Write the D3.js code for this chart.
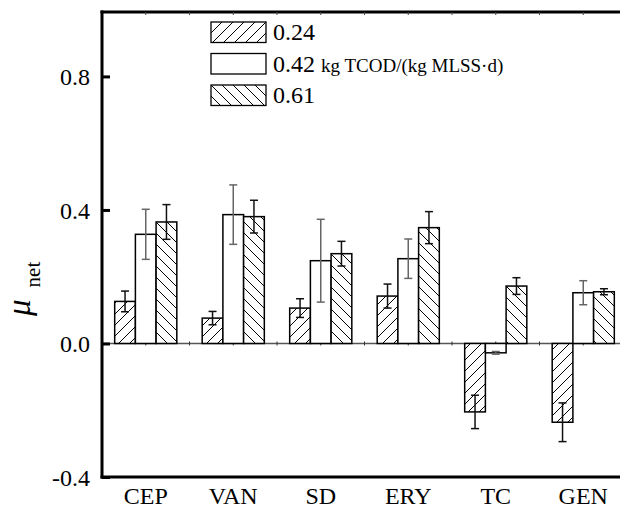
<!DOCTYPE html>
<html>
<head>
<meta charset="utf-8">
<script src="https://cdn.jsdelivr.net/npm/d3@7"></script>
<style>
  body { margin: 0; background: #fff; }
  svg text { font-family: "Liberation Serif", "Times New Roman", serif; fill: #000; }
</style>
</head>
<body>
<div id="chart"></div>
<script>
var w = 620, h = 509;

// data
var categories = ['CEP', 'VAN', 'SD', 'ERY', 'TC', 'GEN'];
var seriesNames = ['0.24', '0.42', '0.61'];
var vals024 = [0.126, 0.076, 0.106, 0.142, -0.205, -0.236];
var vals042 = [0.327, 0.386, 0.248, 0.254, -0.028, 0.152];
var vals061 = [0.364, 0.380, 0.269, 0.347, 0.172, 0.155];
var err024 = [0.031, 0.020, 0.028, 0.036, 0.050, 0.058];
var err042 = [0.075, 0.089, 0.124, 0.059, 0.004, 0.036];
var err061 = [0.052, 0.049, 0.037, 0.048, 0.025, 0.009];
var yTicks = [-0.4, 0.0, 0.4, 0.8];

var allVals = [vals024, vals042, vals061];
var allErrs = [err024, err042, err061];
var fills = ['url(#hatchF)', '#fff', 'url(#hatchB)'];
var errColors = ['#111', '#666', '#111'];

var svg = d3.select('#chart').append('svg')
  .attr('width', w)
  .attr('height', h);

// hatch patterns
var defs = svg.append('defs');
var pf = defs.append('pattern')
  .attr('id', 'hatchF')
  .attr('patternUnits', 'userSpaceOnUse')
  .attr('width', 11).attr('height', 11);
pf.append('rect').attr('width', 11).attr('height', 11).attr('fill', '#fff');
pf.append('path').attr('d', 'M0,11 L11,0 M-3,3 L3,-3 M8,14 L14,8')
  .attr('stroke', '#000').attr('stroke-width', 1);

var pb = defs.append('pattern')
  .attr('id', 'hatchB')
  .attr('patternUnits', 'userSpaceOnUse')
  .attr('width', 11).attr('height', 11);
pb.append('rect').attr('width', 11).attr('height', 11).attr('fill', '#fff');
pb.append('path').attr('d', 'M0,0 L11,11 M-3,8 L3,14 M8,-3 L14,3')
  .attr('stroke', '#000').attr('stroke-width', 1);

var pLeft = 102, pRight = 627, pTop = 12, pBottom = 477;

var x = d3.scaleBand()
  .domain(categories)
  .range([pLeft, pRight])
  .paddingInner(0.29)
  .paddingOuter(0.145);

var x1 = d3.scaleBand()
  .domain(seriesNames)
  .range([0, x.bandwidth()]);

var y = d3.scaleLinear()
  .domain([-0.4, 0.993])
  .range([pBottom, pTop]);

// zero line with small ticks at category centres and boundaries
var zeroTicks = [];
categories.forEach(function(c) {
  zeroTicks.push(x(c) + x.bandwidth() / 2);
  zeroTicks.push(x(c) + x.bandwidth() / 2 + x.step() / 2);
});
svg.append('line')
  .attr('x1', pLeft).attr('x2', w)
  .attr('y1', y(0)).attr('y2', y(0))
  .attr('stroke', '#555').attr('stroke-width', 1.5);
svg.selectAll('.ztick')
  .data(zeroTicks)
  .enter().append('line')
  .attr('class', 'ztick')
  .attr('x1', function(d) { return d; })
  .attr('x2', function(d) { return d; })
  .attr('y1', y(0) - 2).attr('y2', y(0) + 2)
  .attr('stroke', '#333').attr('stroke-width', 1);

// bars
seriesNames.forEach(function(s, k) {
  var g = svg.append('g');
  g.selectAll('rect')
    .data(allVals[k])
    .enter().append('rect')
    .attr('x', function(d, i) { return x(categories[i]) + x1(s); })
    .attr('y', function(d) { return y(Math.max(0, d)); })
    .attr('width', x1.bandwidth())
    .attr('height', function(d) { return Math.abs(y(d) - y(0)); })
    .attr('fill', fills[k])
    .attr('stroke', '#000')
    .attr('stroke-width', 1.5);
});

// error bars
seriesNames.forEach(function(s, k) {
  var g = svg.append('g')
    .attr('stroke', errColors[k])
    .attr('stroke-width', 1.5);
  allVals[k].forEach(function(d, i) {
    var cx = x(categories[i]) + x1(s) + x1.bandwidth() / 2;
    var e = allErrs[k][i];
    g.append('line')
      .attr('x1', cx).attr('x2', cx)
      .attr('y1', y(d + e)).attr('y2', y(d - e));
    g.append('line')
      .attr('x1', cx - 4).attr('x2', cx + 4)
      .attr('y1', y(d + e)).attr('y2', y(d + e));
    g.append('line')
      .attr('x1', cx - 4).attr('x2', cx + 4)
      .attr('y1', y(d - e)).attr('y2', y(d - e));
  });
});

// top frame line with small ticks
svg.append('line')
  .attr('x1', pLeft - 1.5).attr('x2', w)
  .attr('y1', pTop).attr('y2', pTop)
  .attr('stroke', '#000').attr('stroke-width', 3);
svg.selectAll('.ttick')
  .data(zeroTicks)
  .enter().append('line')
  .attr('class', 'ttick')
  .attr('x1', function(d) { return d; })
  .attr('x2', function(d) { return d; })
  .attr('y1', pTop).attr('y2', pTop + 3)
  .attr('stroke', '#444').attr('stroke-width', 1);

// y axis
var yAxis = svg.append('g')
  .attr('transform', 'translate(' + pLeft + ',0)')
  .call(d3.axisLeft(y).tickValues(yTicks).tickSize(-8).tickPadding(12)
    .tickFormat(d3.format('.1f')));
yAxis.select('.domain').attr('stroke', '#000').attr('stroke-width', 3)
  .attr('d', 'M0,' + (pTop - 1.5) + 'V' + (pBottom + 1.5));
yAxis.selectAll('.tick line').attr('stroke', '#000').attr('stroke-width', 3);
yAxis.selectAll('.tick text')
  .style('font-size', '24px')
  .attr('dy', '0.35em')
  .text(function(d) { return d3.format('.1f')(d).replace('\u2212', '-'); });

// x axis
var xAxis = svg.append('g')
  .attr('transform', 'translate(0,' + pBottom + ')')
  .call(d3.axisBottom(x).tickSize(0).tickPadding(10));
xAxis.select('.domain').attr('stroke', '#000').attr('stroke-width', 3)
  .attr('d', 'M' + (pLeft - 1.5) + ',0H' + w);
xAxis.selectAll('.tick text')
  .style('font-size', '24px')
  .attr('dy', '0.71em');

// y label
var yl = svg.append('text')
  .attr('transform', 'translate(30,316) rotate(-90)')
  .attr('text-anchor', 'start');
yl.append('tspan')
  .style('font-size', '33px')
  .style('font-style', 'italic')
  .text('\u03bc');
yl.append('tspan')
  .attr('dx', 12)
  .attr('dy', 10)
  .style('font-size', '21px')
  .text('net');

// legend
var legendRows = [
  { fill: fills[0], label: '0.24', unit: '' },
  { fill: fills[1], label: '0.42', unit: 'kg TCOD/(kg MLSS\u00b7d)' },
  { fill: fills[2], label: '0.61', unit: '' }
];
var leg = svg.selectAll('.leg')
  .data(legendRows)
  .enter().append('g')
  .attr('class', 'leg')
  .attr('transform', function(d, i) { return 'translate(211,' + (22 + i * 31.5) + ')'; });
leg.append('rect')
  .attr('width', 55).attr('height', 20.5)
  .attr('fill', function(d) { return d.fill; })
  .attr('stroke', '#000').attr('stroke-width', 1.3);
var lt = leg.append('text')
  .attr('x', 62).attr('y', 18);
lt.append('tspan').style('font-size', '24px').text(function(d) { return d.label; });
lt.append('tspan').attr('dx', 6).style('font-size', '19px').text(function(d) { return d.unit; });
</script>
</body>
</html>
